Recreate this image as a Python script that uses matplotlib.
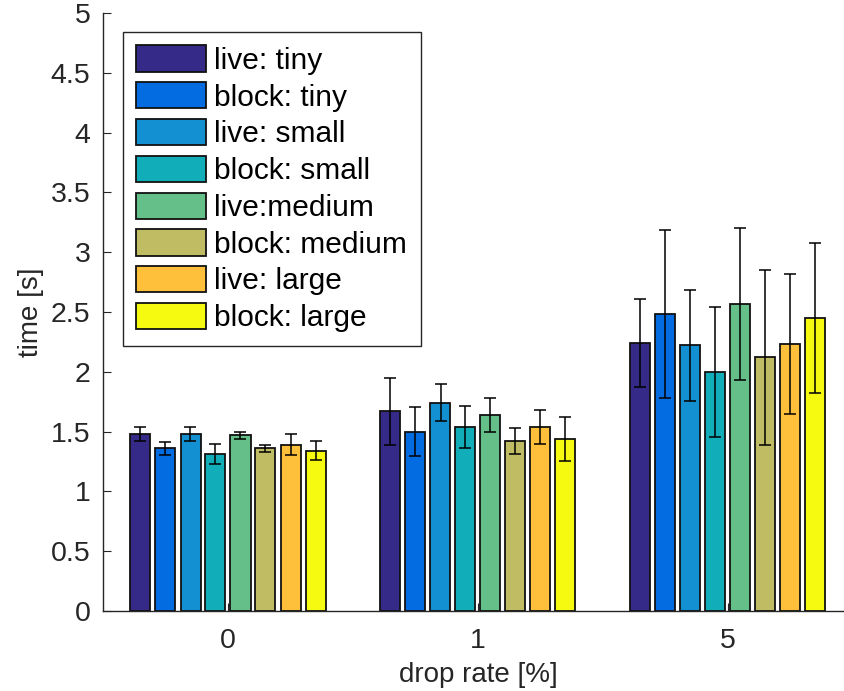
import matplotlib
matplotlib.use("Agg")
import matplotlib.pyplot as plt
import numpy as np

plt.rcParams['font.family'] = ['Liberation Sans', 'DejaVu Sans']

drop_rates = ['0', '1', '5']
series = ['live: tiny', 'block: tiny', 'live: small', 'block: small',
          'live:medium', 'block: medium', 'live: large', 'block: large']
colors = ['#352a87', '#036ce0', '#1290d1', '#11aeb9',
          '#65bf88', '#bfbc63', '#fec03a', '#f6f910']

# mean time per series, one row per drop rate
means = np.array([
    [1.48, 1.36, 1.48, 1.31, 1.47, 1.36, 1.39, 1.34],
    [1.67, 1.50, 1.74, 1.54, 1.64, 1.42, 1.54, 1.44],
    [2.24, 2.48, 2.22, 2.00, 2.57, 2.12, 2.23, 2.45],
])
errs = np.array([
    [0.055, 0.053, 0.060, 0.084, 0.028, 0.028, 0.086, 0.079],
    [0.282, 0.202, 0.154, 0.178, 0.145, 0.110, 0.141, 0.184],
    [0.365, 0.703, 0.464, 0.541, 0.635, 0.730, 0.587, 0.630],
])

W, H = 844, 691
fig = plt.figure(figsize=(W / 100, H / 100), dpi=100)
ax = fig.add_axes([103 / W, 80 / H, 750 / W, 598 / H])

group_x = np.arange(1, len(drop_rates) + 1)
step = 0.1
for i, (name, c) in enumerate(zip(series, colors)):
    x = group_x + (i - 3.5) * step
    ax.bar(x, means[:, i], width=0.08, color=c, edgecolor='#111111',
           linewidth=1.3, label=name, zorder=2)
    ax.errorbar(x, means[:, i], yerr=errs[:, i], fmt='none', ecolor='black',
                elinewidth=1.1, capsize=4, capthick=1.1, zorder=3)

ax.set_xlim(0.5, 3.5)
ax.set_ylim(0, 5)
ax.set_xticks(group_x)
ax.set_xticklabels(drop_rates)
ax.set_yticks(np.arange(0, 5.01, 0.5))
ax.set_yticklabels(['0', '0.5', '1', '1.5', '2', '2.5', '3', '3.5', '4', '4.5', '5'])

for s in ['top', 'right']:
    ax.spines[s].set_visible(False)
for s in ['left', 'bottom']:
    ax.spines[s].set_color('#262626')
    ax.spines[s].set_linewidth(1.0)
ax.tick_params(direction='in', length=6, width=0.8, colors='#262626',
               labelsize=20.5, labelcolor='#262626')
ax.tick_params(axis='y', pad=9)
ax.tick_params(axis='x', pad=12)

ax.set_xlabel('drop rate [%]', fontsize=20, color='#262626', labelpad=6)
ax.set_ylabel('time [s]', fontsize=20, color='#262626', labelpad=5)

leg = ax.legend(loc='upper left', bbox_to_anchor=(123 / W, 1 - 32 / H),
                bbox_transform=fig.transFigure, fontsize=21.5, frameon=True,
                fancybox=False, framealpha=1, edgecolor='#262626',
                handlelength=2.34, handleheight=0.97, handletextpad=0.27,
                labelspacing=0.25, borderpad=0.45, borderaxespad=0)
leg.get_frame().set_linewidth(1.0)

fig.savefig('out.png', dpi=100)
